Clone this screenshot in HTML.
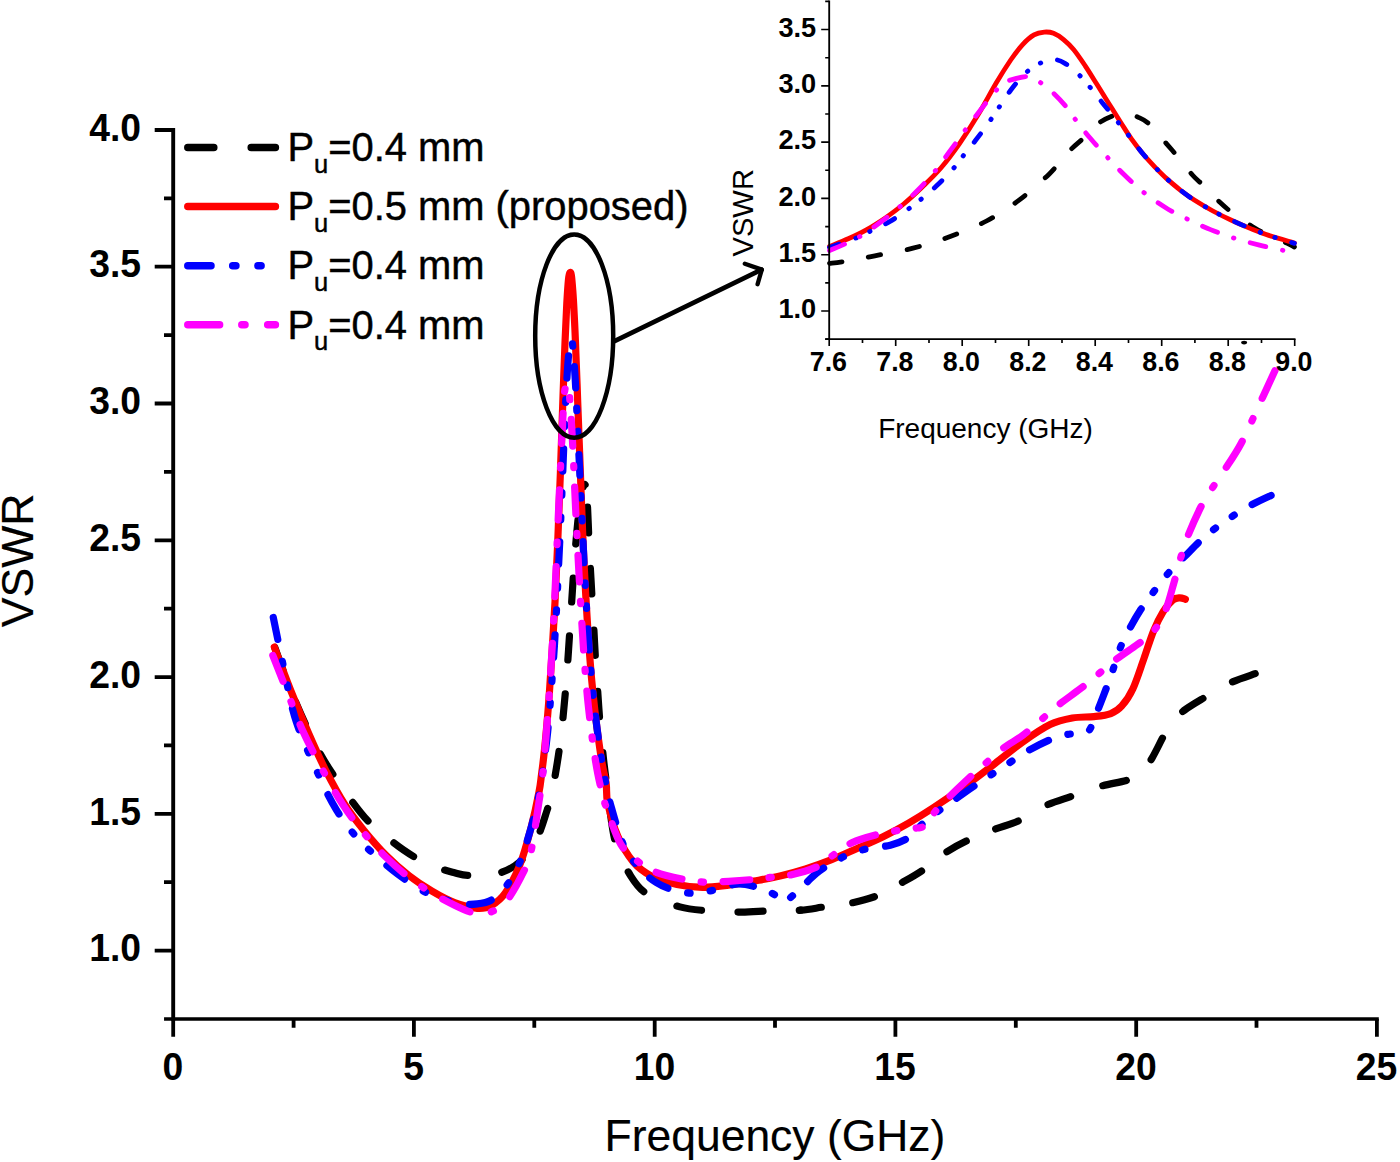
<!DOCTYPE html>
<html lang="en"><head><meta charset="utf-8"><title>VSWR vs Frequency</title>
<style>html,body{margin:0;padding:0;background:#fff}body{width:1400px;height:1162px;overflow:hidden}svg{display:block}text{font-family:"Liberation Sans",Arial,sans-serif;fill:#000}.b{font-weight:bold}</style></head><body>
<svg width="1400" height="1162" viewBox="0 0 1400 1162">
<rect width="1400" height="1162" fill="#fff"/>
<g fill="none" stroke-linecap="round" stroke-linejoin="round" stroke-width="7.2">
<path d="M272.8 642.0C275.6 649.5 283.2 671.6 289.3 686.8C295.5 702.0 303.2 719.8 309.7 733.3C316.3 746.7 320.0 754.4 328.5 767.7C337.1 781.0 352.4 802.3 361.0 813.0C369.6 823.6 372.9 825.4 380.0 831.6C387.1 837.7 395.6 844.5 403.6 850.0C411.6 855.5 419.6 860.5 428.1 864.3C436.6 868.1 447.6 870.9 454.6 872.8C461.6 874.7 462.5 875.5 470.0 875.5C477.6 875.5 491.5 875.1 499.9 872.8C508.2 870.5 514.8 866.2 520.1 861.6C525.4 857.0 528.5 850.0 531.6 845.2C534.8 840.5 537.4 835.9 538.9 833.2C540.5 830.5 539.8 832.1 540.9 829.1C542.0 826.1 543.8 820.6 545.5 815.2C547.1 809.8 549.2 804.4 551.0 796.6C552.8 788.8 554.6 779.2 556.4 768.2C558.2 757.2 560.0 745.5 561.6 730.8C563.3 716.1 564.8 699.1 566.4 680.0C567.9 660.9 569.5 635.3 570.7 616.4C572.0 597.5 573.0 580.9 574.0 566.7C575.0 552.5 575.9 541.6 576.9 531.2C577.9 520.7 578.8 510.9 579.8 503.8C580.7 496.8 581.8 492.0 582.7 488.8C583.6 485.6 584.4 483.4 585.1 484.7" stroke="#000" stroke-dasharray="24.00 34.00" stroke-dashoffset="-6.00"/>
<path d="M1255.2 673.7C1251.1 675.2 1238.9 678.9 1230.6 682.7C1222.4 686.6 1213.1 692.5 1205.6 696.9C1198.1 701.4 1190.6 705.7 1185.4 709.5C1180.2 713.3 1177.8 715.5 1174.3 719.6C1170.9 723.7 1168.4 727.7 1164.7 734.1C1161.0 740.4 1156.2 751.1 1152.2 757.8C1148.2 764.5 1144.8 770.5 1140.6 774.2C1136.4 777.9 1134.0 778.2 1127.1 780.2C1120.3 782.3 1108.8 783.9 1099.7 786.5C1090.5 789.1 1081.4 792.8 1072.3 796.1C1063.1 799.3 1053.8 801.8 1044.8 805.9C1035.8 810.0 1026.6 817.0 1018.3 820.9C1010.1 824.8 1003.7 825.9 995.2 829.1" stroke="#000" stroke-dasharray="24.00 34.00" stroke-dashoffset="0.00"/>
<path d="M995.2 829.1C986.8 832.3 976.1 836.4 967.8 840.3C959.5 844.2 953.2 847.6 945.6 852.6C938.1 857.6 930.0 865.2 922.5 870.3C915.1 875.4 908.3 879.0 900.9 883.2C893.4 887.4 886.1 892.1 877.8 895.5C869.4 898.8 859.8 901.2 850.8 903.1C841.8 905.0 832.2 905.8 823.9 906.9C815.5 908.1 809.7 909.6 800.7 910.2" stroke="#000" stroke-dasharray="22.34 31.65" stroke-dashoffset="22.81"/>
<path d="M800.7 910.2C791.8 910.9 779.8 910.4 769.9 910.8C760.1 911.1 751.9 912.1 741.5 912.1C731.2 912.1 718.1 911.6 707.8 910.8C697.6 909.9 689.9 909.7 679.9 906.9C669.9 904.2 655.8 899.5 647.7 894.4C639.5 889.2 636.2 884.7 630.8 876.1C625.4 867.4 619.3 857.2 615.4 842.5C611.5 827.8 609.1 800.6 607.2 787.9C605.4 775.1 605.1 772.6 604.3 766.0C603.5 759.4 603.2 756.5 602.4 748.3C601.6 740.1 600.3 726.7 599.5 716.9C598.7 707.1 598.3 700.0 597.6 689.6C596.9 679.1 595.9 665.9 595.2 654.1C594.5 642.2 594.0 631.3 593.3 618.5C592.5 605.8 591.6 590.8 590.9 577.6C590.1 564.4 589.6 552.8 588.9 539.3C588.3 525.9 587.6 506.1 587.0 497.0C586.4 487.9 585.8 486.1 585.1 484.7" stroke="#000" stroke-dasharray="25.44 36.04" stroke-dashoffset="23.94"/>
<path d="M274.3 647.0C277.1 654.3 285.1 676.5 290.9 690.9C296.6 705.3 302.9 720.3 308.7 733.5C314.5 746.8 319.7 758.6 325.7 770.4C331.8 782.2 338.5 794.6 344.8 804.5C351.2 814.5 356.9 821.7 363.8 830.2C370.7 838.7 378.8 848.0 386.3 855.6C393.8 863.2 401.3 869.6 408.9 875.5C416.5 881.5 424.4 886.6 432.0 891.1C439.6 895.6 447.1 899.7 454.6 902.6C462.2 905.4 471.1 907.9 477.2 908.3C483.4 908.8 487.0 907.9 491.7 905.3C496.4 902.7 500.9 899.3 505.6 892.5C510.4 885.6 515.8 875.2 520.1 864.3C524.3 853.5 528.0 839.2 531.2 827.2C534.3 815.2 537.2 801.4 538.9 792.5C540.7 783.6 540.7 780.8 541.6 773.9C542.5 767.1 543.4 760.0 544.3 751.5C545.2 743.1 546.1 733.5 547.0 723.1C547.9 712.8 548.8 702.0 549.6 689.6C550.5 677.1 551.4 662.9 552.3 648.3C553.2 633.8 554.1 619.7 555.0 602.2C555.9 584.6 556.8 564.5 557.7 542.9C558.6 521.3 559.5 497.6 560.4 472.7C561.3 447.8 562.3 415.6 563.1 393.5C563.9 371.4 564.5 355.3 565.1 340.3C565.8 325.2 566.3 313.5 566.8 303.4C567.4 293.2 568.0 284.5 568.5 279.4C569.0 274.2 569.5 273.2 570.0 272.5C570.5 271.9 570.9 272.5 571.4 275.5C571.8 278.6 572.3 284.3 572.8 290.8C573.3 297.4 573.7 304.3 574.2 314.9C574.8 325.4 575.4 340.1 575.9 354.2C576.5 368.3 577.1 384.2 577.6 399.2C578.2 414.3 578.7 429.3 579.3 444.3C579.9 459.3 580.4 474.8 581.0 489.4C581.5 503.9 582.1 518.5 582.6 531.7C583.2 544.9 583.7 557.1 584.3 568.3C584.9 579.5 585.4 589.3 586.0 599.2C586.6 609.0 587.1 617.9 587.7 627.3C588.3 636.7 589.0 646.9 589.7 655.7C590.4 664.5 590.9 671.5 591.7 680.0C592.5 688.5 593.5 698.3 594.4 706.5C595.3 714.6 596.2 721.9 597.1 728.9C598.0 735.9 598.9 742.4 599.8 748.5C600.7 754.7 601.4 759.8 602.5 765.7C603.6 771.7 605.3 777.9 606.2 784.0C607.1 790.2 605.8 794.2 607.7 802.9C609.6 811.6 613.6 826.4 617.8 836.2C622.1 846.0 627.6 855.2 633.2 861.9C638.8 868.5 644.2 872.3 651.5 876.1C658.8 879.9 668.5 882.7 677.0 884.5C685.5 886.4 694.0 887.2 702.5 887.3C711.1 887.4 720.0 886.1 728.5 885.1C737.1 884.0 745.5 882.5 754.0 881.0C762.6 879.5 771.5 878.1 780.0 876.1C788.6 874.1 797.0 871.7 805.6 869.0C814.1 866.3 823.0 863.1 831.6 859.7C840.1 856.3 848.5 852.3 857.1 848.5C865.7 844.7 874.5 841.0 883.1 836.8C891.6 832.5 900.1 828.0 908.6 823.1C917.1 818.2 924.2 813.8 934.1 807.3C944.0 800.8 957.6 791.4 967.8 784.0C978.0 776.7 986.1 770.3 995.2 763.3C1004.4 756.3 1013.5 748.5 1022.7 742.0C1031.8 735.5 1041.8 728.5 1050.1 724.5C1058.4 720.5 1065.0 719.3 1072.3 718.0C1079.6 716.6 1087.5 717.3 1093.9 716.6C1100.3 715.9 1106.1 715.4 1110.8 713.6C1115.4 711.8 1118.1 710.1 1121.8 705.9C1125.5 701.8 1129.2 696.7 1132.9 688.7C1136.6 680.8 1140.5 668.1 1144.0 658.4C1147.4 648.8 1150.4 638.6 1153.6 630.8C1156.8 623.1 1160.0 616.9 1163.2 611.7C1166.4 606.6 1170.1 602.3 1172.9 600.0C1175.6 597.7 1177.5 597.9 1179.6 597.8C1181.7 597.7 1184.4 598.9 1185.4 599.2" stroke="#ff0000"/>
<path d="M273.3 617.5C275.2 626.3 280.4 653.0 284.3 670.4C288.1 687.9 290.4 704.2 296.5 722.3C302.5 740.4 313.8 764.5 320.5 779.1C327.3 793.8 330.9 800.8 336.7 810.3C342.5 819.7 349.4 828.8 355.4 835.9C361.3 843.0 365.3 846.5 372.4 852.9C379.4 859.2 389.3 867.8 397.8 874.2C406.3 880.5 415.1 886.7 423.3 891.1C431.6 895.5 441.0 898.2 447.4 900.4C453.8 902.5 456.9 903.3 461.8 903.9C466.8 904.5 472.3 904.6 477.2 903.9C482.2 903.3 487.0 902.7 491.7 899.8C496.4 897.0 500.9 893.4 505.6 887.0C510.4 880.6 515.8 871.6 520.1 861.6C524.3 851.6 528.0 838.3 531.2 827.2C534.3 816.1 537.0 804.0 538.9 795.0C540.8 785.9 541.7 779.2 542.6 772.9C543.6 766.5 543.8 763.9 544.6 757.0C545.5 750.1 546.8 740.5 547.7 731.6C548.6 722.7 549.5 712.1 550.2 703.5C550.9 694.9 551.3 689.6 552.0 680.0C552.7 670.4 553.6 658.3 554.4 646.1C555.1 633.9 556.0 618.5 556.7 606.8C557.3 595.1 557.6 587.7 558.1 575.7C558.7 563.6 559.4 548.6 560.1 534.4C560.7 520.3 561.5 503.4 562.0 490.7C562.6 478.0 562.8 471.1 563.3 458.2C563.8 445.4 564.5 427.5 565.1 413.5C565.8 399.4 566.5 384.7 567.2 373.9C567.9 363.0 568.6 354.2 569.3 348.5C570.1 342.7 570.9 339.0 571.6 339.4" stroke="#0000ff" stroke-dasharray="22.36 22.15 2.66 21.62 2.66 21.62" stroke-dashoffset="0.00"/>
<path d="M1271.1 495.4C1267.9 496.9 1258.1 501.3 1251.8 504.7C1245.6 508.0 1239.5 511.7 1233.5 515.6C1227.5 519.5 1221.3 523.6 1215.7 527.9C1210.1 532.2 1205.0 536.4 1199.8 541.3C1194.6 546.1 1189.6 551.6 1184.4 556.8C1179.3 562.0 1174.2 566.6 1169.0 572.4C1163.9 578.2 1158.3 585.5 1153.6 591.8C1148.9 598.0 1144.5 603.8 1140.6 609.8C1136.7 615.8 1133.4 621.6 1130.0 627.8C1126.7 634.1 1123.4 640.1 1120.4 647.5C1117.4 654.9 1114.9 664.3 1112.2 672.1C1109.5 679.9 1106.8 686.8 1104.0 694.2C1101.2 701.6 1097.5 710.8 1095.4 716.3C1093.2 721.8 1092.3 724.7 1091.0 727.2C1089.7 729.7 1089.4 730.4 1087.7 731.3C1085.9 732.3 1085.3 732.1 1080.4 733.0C1075.5 733.8 1067.0 733.6 1058.3 736.5C1049.5 739.5 1037.4 745.5 1028.0 750.7C1018.6 756.0 1009.8 762.9 1002.0 767.9C994.2 773.0 989.3 775.7 981.3 781.0C973.2 786.4 959.5 796.3 953.8 800.2C948.1 804.0 952.5 800.2 947.1 804.3C941.7 808.4 928.0 819.2 921.6 824.7C915.2 830.3 913.8 834.2 908.6 837.6C903.4 841.0 896.7 843.5 890.3 845.2C883.9 847.0 876.9 846.5 870.1 848.0C863.2 849.5 855.8 851.7 849.4 854.2C842.9 856.8 837.1 860.0 831.6 863.2C826.0 866.5 821.5 869.2 816.2 873.6C810.8 878.0 803.4 885.9 799.3 889.7C795.2 893.6 794.1 894.5 791.6 896.6C789.1 898.6 787.2 902.3 784.4 902.0C781.6 901.8 778.4 897.1 774.8 894.9C771.1 892.7 768.3 890.7 762.2 888.9C756.2 887.1 746.4 883.9 738.6 884.0C730.9 884.1 722.8 888.2 715.5 889.7C708.2 891.3 701.7 893.2 694.8 893.3C688.0 893.4 681.0 892.1 674.6 890.3C668.2 888.5 662.3 886.5 656.3 882.6C650.3 878.8 644.0 873.5 638.5 867.1C633.0 860.7 627.8 854.8 623.1 844.1C618.4 833.4 612.9 812.7 610.1 802.9C607.3 793.1 607.5 791.3 606.2 785.1C604.9 778.9 603.6 771.8 602.5 765.7C601.4 759.7 600.7 754.7 599.8 748.5C598.9 742.4 598.0 735.9 597.1 728.9C596.2 721.9 595.3 714.6 594.4 706.5C593.5 698.3 592.5 688.5 591.7 680.0C590.9 671.5 590.4 664.5 589.7 655.7C589.0 646.9 588.3 636.7 587.7 627.3C587.1 617.9 586.6 609.0 586.0 599.2C585.4 589.3 584.9 579.5 584.3 568.3C583.7 557.1 583.3 545.9 582.6 531.7C582.0 517.5 581.0 497.9 580.3 483.4C579.6 468.8 579.1 457.9 578.4 444.3C577.8 430.7 577.0 414.2 576.4 402.0C575.8 389.8 575.3 379.6 574.7 371.1C574.2 362.6 573.8 356.2 573.2 350.9C572.7 345.6 572.2 339.9 571.6 339.4" stroke="#0000ff" stroke-dasharray="21.00 20.80 2.50 20.30 2.50 20.30" stroke-dashoffset="0.00"/>
<path d="M272.8 655.4C275.2 661.3 281.8 678.4 286.8 690.9C291.8 703.4 296.8 717.5 302.6 730.5C308.5 743.5 315.3 756.5 322.0 768.8C328.6 781.0 335.6 793.6 342.6 804.3C349.5 815.0 356.5 824.1 363.8 832.9C371.1 841.8 378.8 850.1 386.3 857.5C393.8 864.9 401.3 871.5 408.9 877.4C416.5 883.4 424.4 888.4 432.0 893.0C439.6 897.7 448.0 902.1 454.6 905.3C461.2 908.5 466.7 911.0 471.5 912.4C476.3 913.8 480.3 913.5 483.5 913.5C486.7 913.5 487.0 914.0 490.7 912.1C494.4 910.3 500.1 909.4 505.6 902.6C511.2 895.7 519.7 879.8 523.9 871.2C528.2 862.5 528.7 862.2 531.2 850.7C533.7 839.2 537.2 813.2 538.9 802.3C540.6 791.5 540.5 791.1 541.3 785.4C542.0 779.8 542.5 777.2 543.3 768.5C544.1 759.8 545.3 745.5 546.3 733.3C547.3 721.0 548.3 708.0 549.2 695.0C550.1 682.0 550.9 669.8 551.7 655.4C552.6 641.1 553.4 624.9 554.2 609.0C555.0 593.1 555.7 576.7 556.4 560.1C557.1 543.5 557.9 525.7 558.6 509.3C559.3 492.9 560.1 476.6 560.8 461.5C561.5 446.5 562.2 429.8 562.8 418.9C563.4 408.0 563.7 401.2 564.1 396.0C564.6 390.8 564.8 390.3 565.3 387.8C565.9 385.2 566.8 381.4 567.3 380.7" stroke="#ff00ff" stroke-dasharray="30.00 22.05 2.50 22.05" stroke-dashoffset="2.30"/>
<path d="M1274.9 370.8C1272.5 376.0 1266.1 389.9 1260.5 402.0C1254.9 414.0 1247.4 431.6 1241.2 443.2C1235.0 454.8 1228.5 463.7 1223.4 471.6C1218.3 479.6 1214.3 484.8 1210.4 491.0C1206.5 497.2 1203.7 501.3 1199.8 509.0C1196.0 516.8 1190.5 529.2 1187.3 537.4C1184.1 545.6 1182.7 550.9 1180.6 558.2C1178.4 565.5 1176.9 572.6 1174.3 581.4C1171.7 590.2 1168.9 602.6 1165.2 611.2" stroke="#ff00ff" stroke-dasharray="30.36 22.31 2.53 22.31" stroke-dashoffset="0.00"/>
<path d="M1165.2 611.2C1161.5 619.8 1156.9 627.4 1152.2 633.0C1147.4 638.6 1143.2 640.1 1136.8 644.8C1130.3 649.5 1120.2 656.1 1113.7 661.2C1107.1 666.2 1102.8 670.5 1097.3 675.1C1091.8 679.7 1086.9 683.7 1080.4 688.7C1073.9 693.7 1065.0 699.8 1058.3 705.1C1051.6 710.4 1046.4 715.4 1040.5 720.4C1034.5 725.5 1028.8 730.8 1022.7 735.4C1016.5 740.0 1009.6 743.4 1003.4 748.0C997.2 752.6 991.1 758.5 985.6 763.3C980.1 768.1 977.5 770.1 970.2 776.9C962.9 783.8 949.0 796.8 941.8 804.3C934.6 811.7 930.2 817.9 926.9 821.7C923.6 825.6 923.7 826.2 922.1 827.2" stroke="#ff00ff" stroke-dasharray="28.20 20.73 2.35 20.73" stroke-dashoffset="30.84"/>
<path d="M922.1 827.2C920.4 828.2 920.1 827.6 916.8 828.0C913.4 828.5 907.9 829.0 901.8 829.9C895.7 830.9 888.5 831.6 880.2 833.8C871.8 835.9 859.7 839.1 851.8 842.8C843.8 846.4 838.5 851.5 832.5 855.6C826.6 859.7 823.2 863.8 816.2 867.1C809.1 870.3 797.9 873.3 790.2 875.0C782.5 876.7 776.4 876.7 769.9 877.4C763.5 878.2 758.5 879.0 751.6 879.6C744.7 880.3 736.5 880.9 728.5 881.3C720.6 881.7 711.7 882.5 704.0 882.1C696.3 881.7 690.3 880.7 682.3 879.1C674.4 877.4 663.6 875.1 656.3 872.3C649.0 869.4 644.5 866.6 638.5 861.9C632.6 857.2 626.1 853.3 620.7 844.1C615.3 835.0 608.9 814.0 606.2 807.0C603.5 800.0 605.5 805.3 604.7 802.3C603.8 799.4 602.3 794.2 601.2 789.2C600.0 784.3 598.8 779.1 597.6 772.9C596.4 766.6 595.2 759.3 594.1 751.5C592.9 743.8 591.8 735.1 590.7 726.2C589.6 717.2 588.6 709.0 587.5 698.0C586.5 687.0 585.3 673.2 584.3 660.1C583.3 646.9 582.5 633.2 581.6 619.1C580.7 605.0 579.9 590.7 579.1 575.7C578.3 560.7 577.4 544.6 576.6 529.0C575.8 513.4 575.0 495.0 574.4 482.0C573.8 469.0 573.6 461.7 573.0 451.1C572.5 440.6 571.8 428.5 571.2 418.9C570.6 409.3 569.8 399.4 569.3 393.5C568.9 387.6 568.8 385.8 568.5 383.7C568.1 381.5 567.8 380.0 567.3 380.7" stroke="#ff00ff" stroke-dasharray="26.64 19.58 2.22 19.58" stroke-dashoffset="20.48"/>
</g>
<g stroke="#000" fill="none">
<path d="M173.20 128.06V1020.85" stroke-width="3.9"/>
<path d="M164.05 1019.00H1378.80" stroke-width="3.7"/>
<path d="M173.2 950.6H154.7M173.2 813.8H154.7M173.2 677.1H154.7M173.2 540.3H154.7M173.2 403.5H154.7M173.2 266.7H154.7M173.2 130.0H154.7M173.2 882.2H164.0M173.2 745.4H164.0M173.2 608.7H164.0M173.2 471.9H164.0M173.2 335.1H164.0M173.2 198.3H164.0M173.2 1019.0V1036.8M413.9 1019.0V1036.8M654.7 1019.0V1036.8M895.4 1019.0V1036.8M1136.2 1019.0V1036.8M1376.9 1019.0V1036.8M293.6 1019.0V1027.8M534.3 1019.0V1027.8M775.0 1019.0V1027.8M1015.8 1019.0V1027.8M1256.5 1019.0V1027.8" stroke-width="3.8"/>
</g>
<g class="b" font-size="37.3">
<text transform="translate(141.1 961.3) scale(1 1.055)" text-anchor="end">1.0</text>
<text transform="translate(141.1 824.5) scale(1 1.055)" text-anchor="end">1.5</text>
<text transform="translate(141.1 687.8) scale(1 1.055)" text-anchor="end">2.0</text>
<text transform="translate(141.1 551.0) scale(1 1.055)" text-anchor="end">2.5</text>
<text transform="translate(141.1 414.2) scale(1 1.055)" text-anchor="end">3.0</text>
<text transform="translate(141.1 277.4) scale(1 1.055)" text-anchor="end">3.5</text>
<text transform="translate(141.1 140.7) scale(1 1.055)" text-anchor="end">4.0</text>
<text transform="translate(172.9 1079.7) scale(1 1.055)" text-anchor="middle">0</text>
<text transform="translate(413.6 1079.7) scale(1 1.055)" text-anchor="middle">5</text>
<text transform="translate(654.4 1079.7) scale(1 1.055)" text-anchor="middle">10</text>
<text transform="translate(895.1 1079.7) scale(1 1.055)" text-anchor="middle">15</text>
<text transform="translate(1135.9 1079.7) scale(1 1.055)" text-anchor="middle">20</text>
<text transform="translate(1376.6 1079.7) scale(1 1.055)" text-anchor="middle">25</text>
</g>
<text x="775.0" y="1151" font-size="44.45" text-anchor="middle" stroke="#000" stroke-width="0.15">Frequency (GHz)</text>
<text transform="translate(33.0 560.4) rotate(-90)" font-size="44.6" text-anchor="middle" stroke="#000" stroke-width="0.15">VSWR</text>
<g fill="none" stroke-linecap="round" stroke-width="7.5">
<path d="M187.8 147.6H213.8M251.2 147.6H275.4" stroke="#000"/>
<path d="M187.8 206.6H275.4" stroke="#ff0000"/>
<path d="M187.8 265.7H211M232.7 265.7H235.9M257.9 265.7H261.1" stroke="#0000ff"/>
<path d="M187.8 324.8H219.6M241.8 324.8H245M267.7 324.8H275.4" stroke="#ff00ff"/>
</g>
<g font-size="39.9" stroke="#000" stroke-width="0.45">
<text x="287.4" y="161.0">P<tspan font-size="25.5" dy="11.5">u</tspan><tspan dy="-11.5">=0.4 mm</tspan></text>
<text x="287.4" y="220.3">P<tspan font-size="25.5" dy="11.5">u</tspan><tspan dy="-11.5">=0.5 mm (proposed)</tspan></text>
<text x="287.4" y="279.4">P<tspan font-size="25.5" dy="11.5">u</tspan><tspan dy="-11.5">=0.4 mm</tspan></text>
<text x="287.4" y="338.5">P<tspan font-size="25.5" dy="11.5">u</tspan><tspan dy="-11.5">=0.4 mm</tspan></text>
</g>
<g stroke="#000" fill="none" stroke-width="4.3" stroke-linecap="round" stroke-linejoin="round">
<ellipse cx="574.2" cy="336.1" rx="39" ry="101.6" stroke-width="4.5"/>
<path d="M614.5 341.2L761.6 269.7" stroke-width="4.7"/>
<path d="M744.8 263.7L761.8 269.6L757.6 284.2" stroke-width="4.3"/>
</g>
<g fill="none" stroke-linecap="round" stroke-linejoin="round" stroke-width="4.8">
<path d="M829.5 263.3C831.9 263.0 836.0 262.8 843.5 261.6C851.0 260.3 863.2 258.1 874.8 255.8C886.3 253.6 900.4 251.4 913.0 248.2C925.6 244.9 938.0 241.0 950.2 236.5C962.5 231.9 975.0 227.1 986.5 221.0C997.9 215.0 1008.6 208.0 1019.1 200.1C1029.5 192.2 1040.8 182.1 1049.3 173.9C1057.8 165.6 1063.9 156.8 1069.9 150.5C1075.9 144.3 1080.2 141.3 1085.2 136.6C1090.3 131.9 1095.6 125.6 1100.2 122.2C1104.8 118.7 1108.8 117.4 1112.8 115.8C1116.9 114.1 1120.4 112.1 1124.5 112.3C1128.6 112.4 1133.3 114.9 1137.4 116.9C1141.5 118.8 1144.2 119.4 1149.1 123.9C1153.9 128.3 1161.7 138.2 1166.4 143.6C1171.0 148.9 1172.7 150.8 1177.0 155.9C1181.3 161.1 1187.7 169.7 1192.0 174.5C1196.2 179.3 1197.9 180.1 1202.6 184.8C1207.3 189.4 1214.7 197.5 1219.9 202.3C1225.1 207.2 1228.3 209.9 1233.9 214.1C1239.4 218.2 1248.0 223.9 1253.5 227.2C1258.9 230.6 1260.8 231.5 1266.4 234.2C1272.1 236.9 1282.7 241.3 1287.4 243.4C1292.0 245.6 1293.2 246.4 1294.4 247.0" stroke="#000" stroke-dasharray="12.7 26.7"/>
<path d="M829.5 246.5C832.6 245.2 841.9 241.6 848.2 238.8C854.4 236.0 860.6 233.1 866.8 229.6C873.0 226.1 879.2 222.1 885.4 217.9C891.5 213.6 897.5 209.2 903.7 204.0C909.8 198.9 916.1 193.0 922.3 187.0C928.5 181.0 934.7 175.2 940.9 168.0C947.1 160.8 953.3 152.5 959.5 143.6C965.7 134.7 972.0 124.9 978.2 114.6C984.4 104.4 991.3 91.1 996.8 82.0C1002.2 72.9 1006.5 66.2 1010.7 60.0C1015.0 53.8 1018.5 49.0 1022.4 44.8C1026.3 40.6 1030.4 37.0 1034.0 34.9C1037.7 32.8 1041.1 32.4 1044.3 32.1C1047.6 31.8 1050.4 32.1 1053.6 33.3C1056.9 34.6 1060.3 36.9 1063.6 39.6C1066.9 42.3 1070.0 45.2 1073.6 49.5C1077.2 53.9 1081.3 60.0 1085.2 65.8C1089.1 71.6 1093.0 78.1 1096.9 84.3C1100.7 90.5 1104.6 96.7 1108.5 102.9C1112.4 109.1 1116.3 115.5 1120.1 121.5C1124.0 127.5 1127.6 133.5 1131.4 138.9C1135.3 144.4 1139.2 149.4 1143.1 154.0C1147.0 158.7 1150.8 162.7 1154.7 166.8C1158.6 170.8 1162.1 174.5 1166.4 178.4C1170.6 182.2 1175.7 186.4 1180.3 190.1C1185.0 193.7 1188.9 196.6 1194.3 200.1C1199.7 203.6 1206.7 207.7 1212.9 211.0C1219.1 214.4 1225.3 217.4 1231.5 220.2C1237.7 223.1 1243.9 225.8 1250.1 228.4C1256.4 230.9 1261.4 233.0 1268.8 235.4C1276.1 237.9 1290.1 241.7 1294.4 243.0" stroke="#ff0000"/>
<path d="M829.5 247.5C833.8 246.0 848.5 241.0 855.1 238.4C861.7 235.8 863.3 234.7 869.1 231.8C874.9 229.0 883.7 225.0 890.0 221.4C896.4 217.7 902.4 213.3 907.3 209.8C912.3 206.2 915.2 204.0 920.0 200.1C924.8 196.1 930.9 191.2 936.3 186.1C941.6 181.1 947.9 174.8 952.2 169.9C956.5 165.1 958.3 162.0 962.2 157.1C966.1 152.1 971.3 145.9 975.8 140.1C980.3 134.2 985.4 127.3 989.1 122.1C992.8 116.8 994.5 114.0 998.1 108.7C1001.7 103.3 1006.3 96.0 1010.7 90.2C1015.2 84.4 1019.9 78.3 1024.7 73.9C1029.5 69.4 1034.6 65.8 1039.7 63.4C1044.7 61.0 1050.5 59.5 1055.0 59.7C1059.5 59.8 1062.9 62.2 1066.6 64.4C1070.3 66.6 1073.3 69.2 1076.9 72.7C1080.6 76.2 1084.3 80.4 1088.6 85.5C1092.8 90.5 1098.0 97.3 1102.5 102.9C1107.0 108.5 1110.7 113.0 1115.5 119.0C1120.3 125.0 1126.8 133.1 1131.4 138.9C1136.0 144.8 1139.2 149.4 1143.1 154.0C1147.0 158.7 1150.8 162.7 1154.7 166.8C1158.6 170.8 1162.1 174.5 1166.4 178.4C1170.6 182.2 1175.7 186.4 1180.3 190.1C1185.0 193.7 1188.9 196.6 1194.3 200.1C1199.7 203.6 1206.7 207.7 1212.9 211.0C1219.1 214.4 1225.3 217.4 1231.5 220.2C1237.7 223.1 1243.9 225.8 1250.1 228.4C1256.4 230.9 1261.4 232.9 1268.8 235.4C1276.1 238.0 1290.1 242.1 1294.4 243.4" stroke="#0000ff" stroke-dasharray="10.5 17.3 0.5 15 0.5 17"/>
<path d="M829.5 250.5C832.2 249.4 840.8 245.9 845.8 243.6C850.9 241.2 854.0 240.2 859.8 236.6C865.6 233.0 874.0 227.1 880.7 222.0C887.5 217.0 894.1 211.6 900.4 206.3C906.6 200.9 912.2 195.9 918.0 190.0C923.8 184.0 929.9 177.4 935.3 170.8C940.6 164.3 945.2 157.5 950.2 150.7C955.3 143.8 960.5 136.5 965.5 129.7C970.6 122.9 975.7 116.2 980.5 110.0C985.3 103.8 990.6 96.9 994.5 92.4C998.3 87.9 1000.8 85.1 1003.8 83.0C1006.7 80.8 1008.4 80.7 1012.1 79.6C1015.7 78.6 1022.1 77.0 1025.7 76.7C1029.3 76.4 1031.4 77.0 1033.7 77.9C1036.0 78.8 1036.5 79.6 1039.7 82.0C1042.8 84.4 1048.4 88.5 1052.6 92.4C1056.9 96.4 1061.6 101.4 1065.3 105.7C1068.9 110.1 1070.5 113.1 1074.6 118.5C1078.7 123.8 1084.4 131.4 1089.9 137.8C1095.3 144.3 1101.4 150.9 1107.2 157.1C1112.9 163.3 1118.5 169.2 1124.5 175.0C1130.4 180.8 1136.3 186.4 1143.1 191.9C1149.9 197.3 1158.0 203.0 1165.4 207.5C1172.7 212.1 1179.8 215.4 1187.3 219.1C1194.8 222.8 1202.7 226.4 1210.6 229.6C1218.5 232.8 1226.7 235.8 1234.9 238.4C1243.0 241.0 1251.3 243.1 1259.5 245.1C1267.6 247.2 1277.9 249.3 1283.7 250.5C1289.5 251.8 1292.6 252.1 1294.4 252.4" stroke="#ff00ff" stroke-dasharray="16.2 16.85 0.5 16.85"/>
</g>
<g stroke="#000" fill="none">
<path d="M829.2 0.6V340.0" stroke-width="1.85"/>
<path d="M825.2 339.1H1295.5" stroke-width="1.8"/>
<path d="M829.2 311.0H821.2M829.2 254.7H821.2M829.2 198.4H821.2M829.2 142.1H821.2M829.2 85.8H821.2M829.2 29.5H821.2M829.2 339.1H825.2M829.2 282.9H825.2M829.2 226.6H825.2M829.2 170.2H825.2M829.2 114.0H825.2M829.2 57.7H825.2M829.2 1.4H825.2M829.2 339.1V345.9M895.7 339.1V345.9M962.2 339.1V345.9M1028.7 339.1V345.9M1095.2 339.1V345.9M1161.7 339.1V345.9M1228.2 339.1V345.9M1294.7 339.1V345.9M862.5 339.1V342.9M929.0 339.1V342.9M995.5 339.1V342.9M1062.0 339.1V342.9M1128.5 339.1V342.9M1194.9 339.1V342.9M1261.5 339.1V342.9" stroke-width="1.65"/>
</g>
<ellipse cx="1244.1" cy="342.6" rx="3" ry="1.8" fill="#000"/>
<g class="b" font-size="26.8">
<text x="816.2" y="318.3" text-anchor="end" font-size="27.2">1.0</text>
<text x="816.2" y="262.0" text-anchor="end" font-size="27.2">1.5</text>
<text x="816.2" y="205.7" text-anchor="end" font-size="27.2">2.0</text>
<text x="816.2" y="149.4" text-anchor="end" font-size="27.2">2.5</text>
<text x="816.2" y="93.1" text-anchor="end" font-size="27.2">3.0</text>
<text x="816.2" y="36.8" text-anchor="end" font-size="27.2">3.5</text>
<text x="828.4" y="371.3" text-anchor="middle">7.6</text>
<text x="894.9" y="371.3" text-anchor="middle">7.8</text>
<text x="961.4" y="371.3" text-anchor="middle">8.0</text>
<text x="1027.9" y="371.3" text-anchor="middle">8.2</text>
<text x="1094.4" y="371.3" text-anchor="middle">8.4</text>
<text x="1160.9" y="371.3" text-anchor="middle">8.6</text>
<text x="1227.4" y="371.3" text-anchor="middle">8.8</text>
<text x="1293.9" y="371.3" text-anchor="middle">9.0</text>
</g>
<text x="985.5" y="438" font-size="28" text-anchor="middle">Frequency (GHz)</text>
<text transform="translate(753.2 212.8) rotate(-90)" font-size="29.2" text-anchor="middle">VSWR</text>
</svg></body></html>
